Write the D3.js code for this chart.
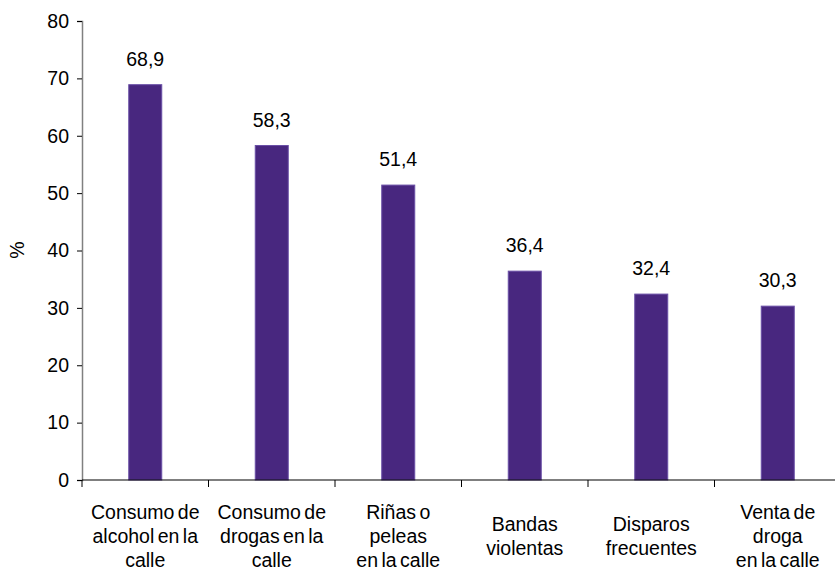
<!DOCTYPE html>
<html>
<head>
<meta charset="utf-8">
<script src="https://cdn.jsdelivr.net/npm/d3@7"></script>
<style>
  html, body { margin: 0; padding: 0; background: #fff; }
  svg { display: block; font-family: "Liberation Sans", Arial, Helvetica, sans-serif; }
</style>
</head>
<body>
<svg id="chart" width="835" height="570"></svg>
<script>
const categories = [
  ["Consumo de", "alcohol en la", "calle"],
  ["Consumo de", "drogas en la", "calle"],
  ["Riñas o", "peleas", "en la calle"],
  ["Bandas", "violentas"],
  ["Disparos", "frecuentes"],
  ["Venta de", "droga", "en la calle"]
];
const values = [68.9, 58.3, 51.4, 36.4, 32.4, 30.3];
const valueLabels = ["68,9", "58,3", "51,4", "36,4", "32,4", "30,3"];
const yTicks = [0, 10, 20, 30, 40, 50, 60, 70, 80];
const yLabel = "%";

const svg = d3.select("#chart");
const plotLeft = 82, plotRight = 841, plotTop = 21, plotBottom = 480;
const fs = 19.5;

const idx = d3.range(categories.length);
const x = d3.scaleBand().domain(idx).range([plotLeft, plotRight]).paddingInner(0).paddingOuter(0);
const y = d3.scaleLinear().domain([0, 80]).range([plotBottom, plotTop]);

const barW = 33;

// bars
svg.append("g").selectAll("rect").data(idx).join("rect")
  .attr("x", i => x(i) + x.bandwidth() / 2 - barW / 2)
  .attr("y", i => y(values[i]))
  .attr("width", barW)
  .attr("height", i => y(0) - y(values[i]))
  .attr("fill", "#48277f")
  .attr("stroke", "#6a4fa6")
  .attr("stroke-width", 1);

// value labels
svg.append("g").selectAll("text").data(idx).join("text")
  .attr("x", i => x(i) + x.bandwidth() / 2)
  .attr("y", i => y(values[i]) - 19)
  .attr("text-anchor", "middle")
  .attr("font-size", fs)
  .attr("fill", "#000")
  .text(i => valueLabels[i]);

// y axis
const yAxis = d3.axisLeft(y).tickValues(yTicks).tickSize(5).tickPadding(8).tickFormat(d3.format("d"));
const gy = svg.append("g").attr("transform", `translate(${plotLeft},0)`).call(yAxis);
gy.select(".domain").attr("stroke", "#808080").attr("stroke-width", 1.5);
gy.selectAll(".tick line").attr("stroke", "#000");
gy.selectAll(".tick text").attr("font-size", fs).attr("fill", "#000")
  .attr("font-family", '"Liberation Sans", Arial, sans-serif');

// x axis line
svg.append("line")
  .attr("x1", plotLeft).attr("x2", plotRight)
  .attr("y1", y(0)).attr("y2", y(0))
  .attr("stroke", "#000").attr("stroke-width", 1.2);

// x category boundary ticks
const bounds = d3.range(categories.length + 1).map(i => plotLeft + i * x.bandwidth());
svg.append("g").selectAll("line").data(bounds).join("line")
  .attr("x1", d => d).attr("x2", d => d)
  .attr("y1", y(0)).attr("y2", y(0) + 7)
  .attr("stroke", "#000").attr("stroke-width", 1);

// category labels
const lineH = 24;
const catG = svg.append("g");
idx.forEach(i => {
  const lines = categories[i];
  const cx = x(i) + x.bandwidth() / 2;
  const baseFirst = 543 - (lines.length - 1) * lineH / 2;
  const t = catG.append("text")
    .attr("text-anchor", "middle")
    .attr("font-size", fs)
    .attr("fill", "#000")
    .attr("word-spacing", "-2px");
  lines.forEach((ln, k) => {
    t.append("tspan").attr("x", cx).attr("y", baseFirst + k * lineH).text(ln);
  });
});

// y label
svg.append("text")
  .attr("transform", "translate(24,250) rotate(-90)")
  .attr("text-anchor", "middle")
  .attr("font-size", fs)
  .attr("fill", "#000")
  .text(yLabel);
</script>
</body>
</html>
